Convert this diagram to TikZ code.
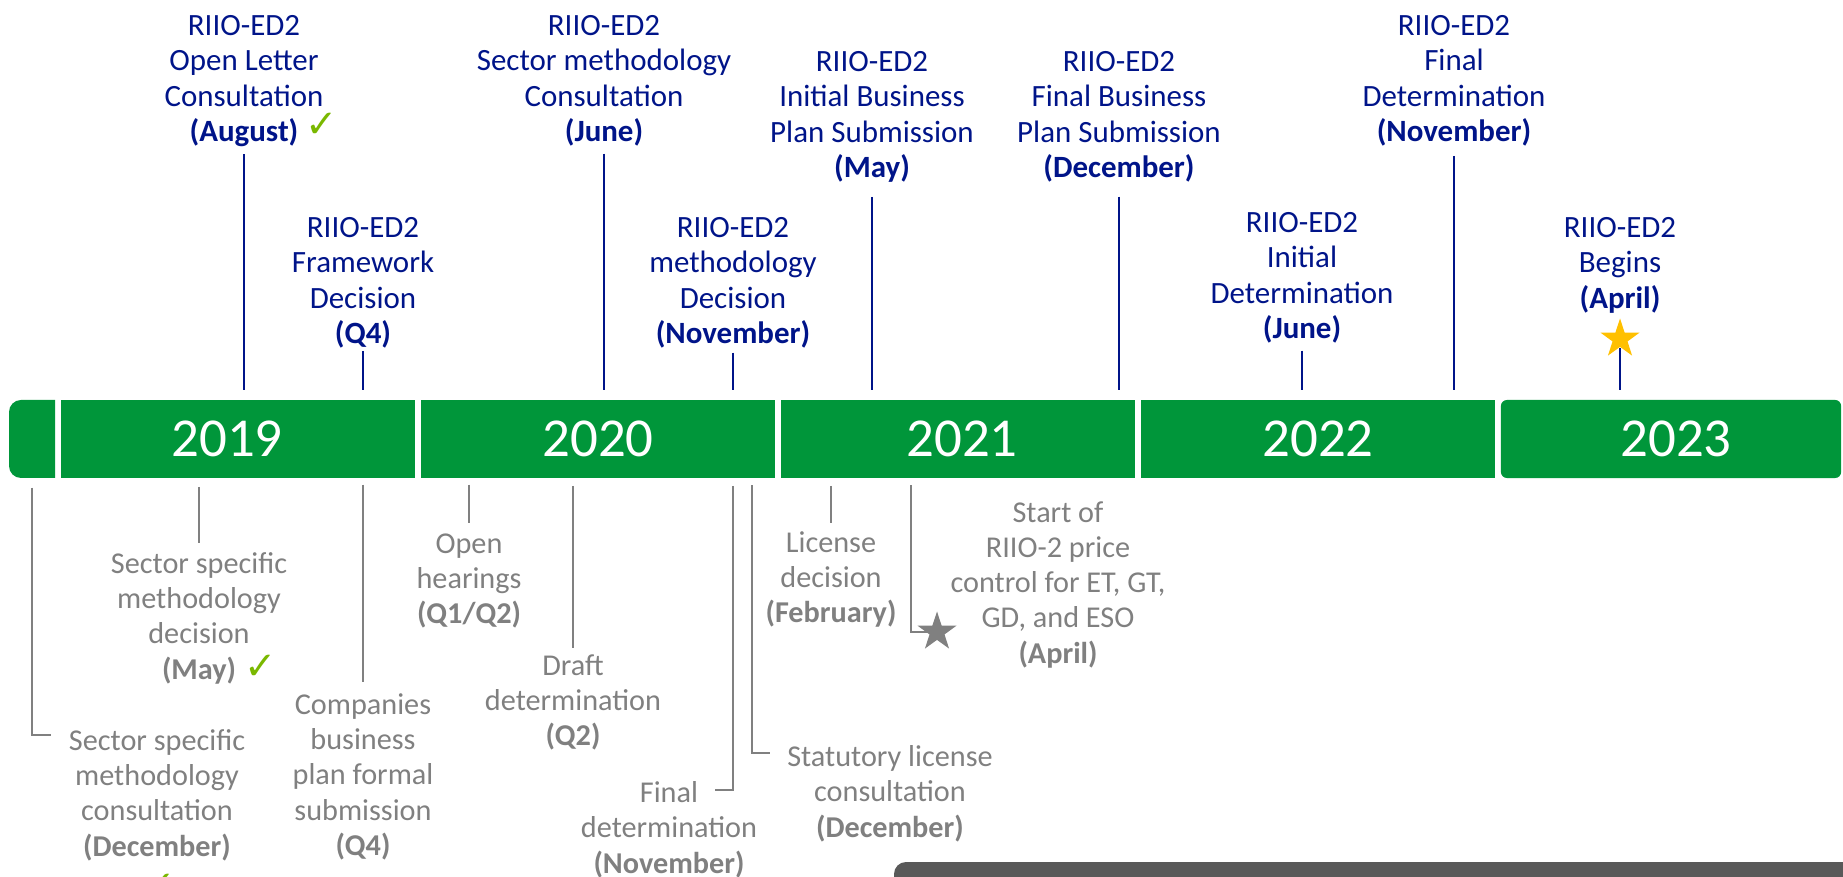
\documentclass[tikz,border=0pt]{standalone}
\usepackage{fontspec}
\setmainfont{Carlito}
\newfontfamily\dejavu{DejaVu Sans}
\usetikzlibrary{shapes.geometric}
\definecolor{edgreen}{RGB}{0,150,58}
\definecolor{ednavy}{RGB}{0,20,137}
\definecolor{edgrey}{RGB}{128,128,128}
\definecolor{edtick}{RGB}{122,184,0}
\definecolor{edgold}{RGB}{255,192,0}
\definecolor{eddark}{RGB}{89,89,89}

\begin{document}
\begin{tikzpicture}[x=0.01cm,y=-0.01cm,
  yearbox/.style={fill=edgreen,text=white,inner sep=0pt,minimum height=0.78cm,minimum width=3.54cm,font=\fontsize{15.6}{18}\selectfont},
  ofgem/.style={text=ednavy,align=center,inner sep=0pt,anchor=north,font=\fontsize{8.8}{10}\selectfont},
  other/.style={text=edgrey,align=center,inner sep=0pt,anchor=north,font=\fontsize{8.6}{10}\selectfont},
  navyline/.style={draw=ednavy,line width=0.6pt},
  greyline/.style={draw=edgrey,line width=0.6pt},
  okmark/.style={text=edtick,inner sep=0pt,font=\dejavu\fontsize{11}{11}\selectfont},
  medal/.style={star,star points=5,star point ratio=2.6,inner sep=0pt,minimum size=0.41cm}]
\useasboundingbox (0,0) rectangle (1843,877);

% the years
\fill[edgreen] (32,400) [rounded corners=0.12cm] -- (9,400) -- (9,478) -- (32,478) [sharp corners] -- (55,478) -- (55,400) -- cycle;
\path (32,439) node[minimum width=0.46cm,minimum height=0.78cm,inner sep=0pt] (y0) {};
\node[yearbox] (y2019) at (238,439) {\hspace*{-0.22cm}2019};
\node[yearbox] (y2020) at (598,439) {2020};
\node[yearbox] (y2021) at (958,439) {2021\hspace*{-0.08cm}};
\node[yearbox] (y2022) at (1318,439) {2022};
\node[yearbox,minimum width=3.40cm,rounded corners=0.06cm] (y2023) at (1671,439) {2023\hspace*{-0.1cm}};

% RIIO-ED2 milestones
\node[ofgem] (e1) at (244,15) {RIIO-ED2\\Open Letter\\Consultation\\\textbf{(August)}};
\node[okmark] (ok1) at (322,125) {✓};
\draw[navyline,shorten <=2pt,shorten >=2.5pt] (e1.south) -- (e1.south |- y2019.north);

\node[ofgem] (e2) at (363,217) {RIIO-ED2\\Framework\\Decision\\\textbf{(Q4)}};
\draw[navyline,shorten <=0.6pt,shorten >=2.5pt] (e2.south) -- (e2.south |- y2019.north);

\node[ofgem] (e3) at (604,15) {RIIO-ED2\\Sector methodology\\Consultation\\\textbf{(June)}};
\draw[navyline,shorten <=2pt,shorten >=2.5pt] (e3.south) -- (e3.south |- y2020.north);

\node[ofgem] (e4) at (733,217) {RIIO-ED2\\methodology\\Decision\\\textbf{(November)}};
\draw[navyline,shorten <=1.1pt,shorten >=2.5pt] (e4.south) -- (e4.south |- y2020.north);

\node[ofgem] (e5) at (872,51) {RIIO-ED2\\Initial Business\\Plan Submission\\\textbf{(May)}};
\draw[navyline,shorten <=4pt,shorten >=2.5pt] (e5.south) -- (e5.south |- y2021.north);

\node[ofgem] (e6) at (1119,51) {RIIO-ED2\\Final Business\\Plan Submission\\\textbf{(December)}};
\draw[navyline,shorten <=4pt,shorten >=2.5pt] (e6.south) -- (e6.south |- y2021.north);

\node[ofgem] (e7) at (1302,212) {RIIO-ED2\\Initial\\Determination\\\textbf{(June)}};
\draw[navyline,shorten <=2pt,shorten >=2.5pt] (e7.south) -- (e7.south |- y2022.north);

\node[ofgem] (e8) at (1454,15) {RIIO-ED2\\Final\\Determination\\\textbf{(November)}};
\draw[navyline,shorten <=2.6pt,shorten >=2.5pt] (e8.south) -- (e8.south |- y2022.north);

\node[ofgem] (e9) at (1620,217) {RIIO-ED2\\Begins\\\textbf{(April)}};
\node[medal,fill=edgold] (s1) at (1620,339) {};
\draw[navyline,shorten >=2.5pt] (s1.south) -- (s1.south |- y2023.north);

% other milestones
\node[other] (a) at (157,729) {Sector specific\\methodology\\consultation\\\textbf{(December)}};
\coordinate (a-tick) at (51,735);
\draw[greyline,shorten <=2.5pt] (y0.south) |- (a-tick);
\node[okmark] (ok3) at (160,886) {✓};

\node[other] (b) at (199,552) {Sector specific\\methodology\\decision\\\textbf{(May)}};
\node[okmark] (ok2) at (261,667) {✓};
\draw[greyline,shorten <=2.3pt,shorten >=2.5pt] (b.north |- y2019.south) -- (b.north);

\node[other] (c) at (363,693) {Companies\\business\\plan formal\\submission\\\textbf{(Q4)}};
\draw[greyline,shorten <=1.7pt,shorten >=3.1pt] (c.north |- y2019.south) -- (c.north);

\node[other] (d) at (469,533) {Open\\hearings\\\textbf{(Q1/Q2)}};
\draw[greyline,shorten <=1.7pt,shorten >=2.8pt] (d.north |- y2020.south) -- (d.north);

\node[other] (e) at (573,654) {Draft\\determination\\\textbf{(Q2)}};
\draw[greyline,shorten <=2pt,shorten >=1.7pt] (e.north |- y2020.south) -- (e.north);

\node[other] (f) at (669,781) {Final\\determination\\\textbf{(November)}};
\coordinate (f-tick) at (715,790);
\draw[greyline,shorten <=2pt] (e4.south |- y2020.south) |- (f-tick);

\node[other] (g) at (890,745) {Statutory license\\consultation\\\textbf{(December)}};
\coordinate (g-pin) at (752,478);
\coordinate (g-tick) at (770,753);
\draw[greyline,shorten <=2pt] (g-pin) |- (g-tick);

\node[other] (h) at (831,531) {License\\decision\\\textbf{(February)}};
\draw[greyline,shorten <=2pt,shorten >=2.3pt] (h.north |- y2021.south) -- (h.north);

\node[other] (i) at (1058,501) {Start of\\RIIO-2 price\\control for ET, GT,\\GD, and ESO\\\textbf{(April)}};
\coordinate (i-pin) at (911,478);
\coordinate (i-star) at (937,632);
\draw[greyline,shorten <=2pt] (i-pin) |- (i-star);
\node[medal,fill=edgrey] (s2) at (i-star) {};

\fill[eddark,rounded corners=0.12cm] (894,862) rectangle (1900,920);
\end{tikzpicture}
\end{document}
